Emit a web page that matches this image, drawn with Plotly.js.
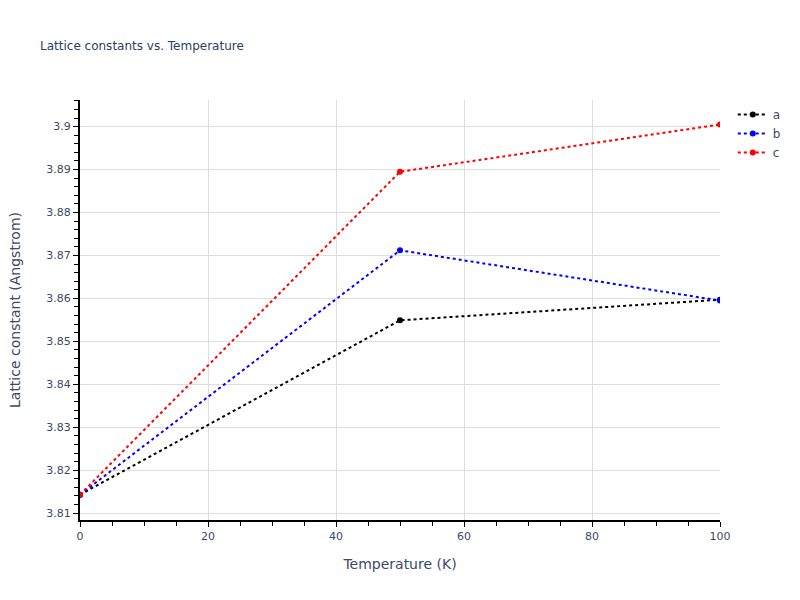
<!DOCTYPE html>
<html>
<head>
<meta charset="utf-8">
<script src="https://cdn.plot.ly/plotly-3.0.1.min.js"></script>
<style>body{margin:0;padding:0;}#chart{width:800px;height:600px;}</style>
</head>
<body>
<div id="chart"></div>
<script>
const temperature = [0, 50, 100];
const latticeA = [3.8143, 3.8549, 3.8597];
const latticeB = [3.8143, 3.8712, 3.8595];
const latticeC = [3.8143, 3.8895, 3.9005];
const seriesNames = ['a', 'b', 'c'];
const seriesColors = ['black', 'blue', 'red'];

const allY = [latticeA, latticeB, latticeC];
const traces = allY.map((ys, i) => ({
  x: temperature,
  y: ys,
  name: seriesNames[i],
  type: 'scatter',
  mode: 'lines+markers',
  line: {color: seriesColors[i], dash: 'dot', width: 2},
  marker: {color: seriesColors[i], size: 6}
}));

const FONT = '"DejaVu Sans", Verdana, sans-serif';
const axisCommon = {
  showline: true,
  linecolor: 'black',
  linewidth: 2,
  ticks: 'outside',
  tickcolor: 'black',
  ticklen: 5,
  tickwidth: 1,
  showgrid: true,
  gridcolor: '#dedede',
  zeroline: false,
  tickfont: {family: FONT, color: '#3b4a68', size: 11}
};

const layout = {
  width: 800,
  height: 600,
  margin: {l: 80, r: 80, t: 100, b: 80},
  paper_bgcolor: 'white',
  plot_bgcolor: 'white',
  font: {family: FONT, color: '#2a3f5f', size: 12},
  title: {text: 'Lattice constants vs. Temperature', font: {family: FONT, size: 12, color: '#2a3f5f'}, x: 0.05},
  xaxis: Object.assign({}, axisCommon, {
    title: {text: 'Temperature (K)', standoff: 17, font: {family: FONT, color: '#3b4a68', size: 14}},
    range: [0, 100],
    dtick: 20,
    minor: {dtick: 5, ticks: 'outside', ticklen: 4, tickcolor: 'black', showgrid: false}
  }),
  yaxis: Object.assign({}, axisCommon, {
    title: {text: 'Lattice constant (Angstrom)', standoff: 22, font: {family: FONT, color: '#3b4a68', size: 14}},
    range: [3.8084, 3.9062],
    dtick: 0.01,
    minor: {dtick: 0.002, ticks: 'outside', ticklen: 4, tickcolor: 'black', showgrid: false}
  }),
  legend: {font: {family: FONT, size: 12, color: '#3b4a68'}},
  showlegend: true
};

Plotly.newPlot('chart', traces, layout, {displayModeBar: false});
</script>
</body>
</html>
